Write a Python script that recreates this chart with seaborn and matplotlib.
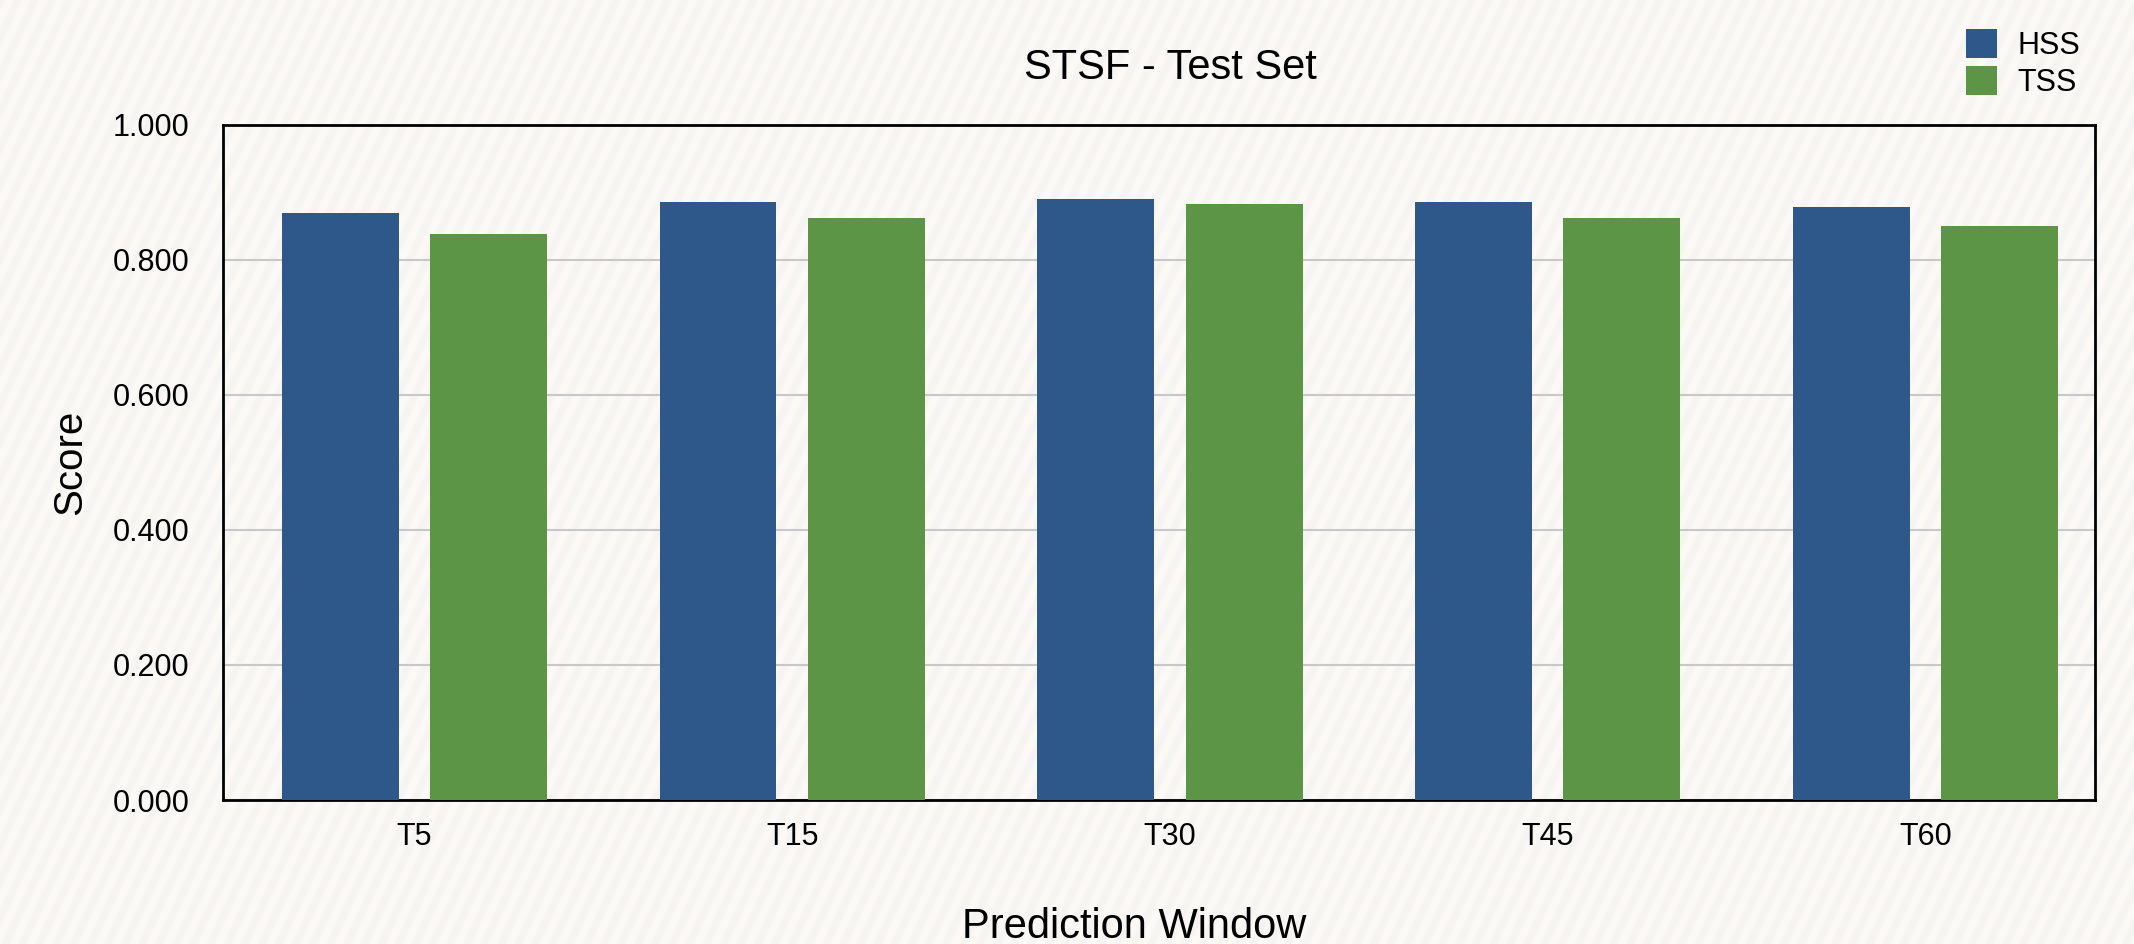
import numpy as np
import pandas as pd
import matplotlib
matplotlib.use("Agg")
import matplotlib.pyplot as plt
from matplotlib.patches import Patch
from matplotlib.ticker import FormatStrFormatter
import seaborn as sns

# Scores per prediction window
windows = ["T5", "T15", "T30", "T45", "T60"]
hss = [0.870, 0.886, 0.890, 0.886, 0.879]
tss = [0.838, 0.862, 0.883, 0.862, 0.850]
metrics = ["HSS", "TSS"]
metric_colors = ["#2E578A", "#5D9547"]
yticks = [0.0, 0.2, 0.4, 0.6, 0.8, 1.0]

df = pd.DataFrame({
    "window": windows * 2,
    "score": hss + tss,
    "metric": ["HSS"] * len(windows) + ["TSS"] * len(windows),
})

sns.set_style("white")
plt.rcParams["font.family"] = ["Liberation Sans", "DejaVu Sans"]
plt.rcParams["text.color"] = "black"
plt.rcParams["axes.labelcolor"] = "black"

W, H, DPI = 2134, 944, 100
fig = plt.figure(figsize=(W / DPI, H / DPI), dpi=DPI)

# Faint diagonal-striped paper background
bg = fig.add_axes([0, 0, 1, 1], zorder=-10)
rows, cols = np.mgrid[0:H, 0:W]
theta = np.deg2rad(65)
u = np.sin(theta) * cols + np.cos(theta) * rows
period = 15.5
wave = 0.5 * (1 + np.cos(2 * np.pi * u / period))
base = np.array([253, 250, 247]) / 255.0
stripe = np.array([246, 244, 242]) / 255.0
img = base[None, None, :] * (1 - wave[..., None]) + stripe[None, None, :] * wave[..., None]
bg.imshow(img, extent=[0, W, H, 0], aspect="auto", interpolation="bilinear")
bg.set_axis_off()

ax = fig.add_axes([223 / W, 1 - 800 / H, (2095 - 223) / W, (800 - 125) / H])
ax.set_facecolor("none")

sns.barplot(
    data=df, x="window", y="score", hue="metric", order=windows, hue_order=metrics,
    palette=metric_colors, saturation=1, width=0.786, gap=0.212, errorbar=None,
    linewidth=0, legend=False, ax=ax, zorder=3,
)

ax.set_xlim(-0.507, 4.449)
ax.set_ylim(0, 1)
ax.set_yticks(yticks)
ax.yaxis.set_major_formatter(FormatStrFormatter("%.3f"))
ax.yaxis.grid(True, color="#c8c8c8", linewidth=1.5, zorder=0)
ax.set_axisbelow(True)
for s in ax.spines.values():
    s.set_visible(True)
    s.set_color("black")
    s.set_linewidth(2)
ax.tick_params(axis="both", length=0, labelsize=22, colors="black")
ax.tick_params(axis="y", pad=24)
ax.tick_params(axis="x", pad=16)

ax.set_xlabel("Prediction Window", fontsize=30)
ax.xaxis.label.set_va("baseline")
ax.xaxis.set_label_coords((1134 - 223) / (2095 - 223), (800 - 938) / (800 - 125))
ax.set_ylabel("Score", fontsize=29)
ax.yaxis.set_label_coords((89 - 223) / (2095 - 223), 0.5)

fig.text(1170 / W, 1 - 79 / H, "STSF - Test Set", ha="center", va="baseline", fontsize=30)

handles = [Patch(facecolor=c, edgecolor="none", label=m) for m, c in zip(metrics, metric_colors)]
fig.legend(
    handles=handles, loc="upper left", bbox_to_anchor=(1966 / W, 1 - 29 / H),
    bbox_transform=fig.transFigure, frameon=False, fontsize=22, borderpad=0,
    borderaxespad=0, handlelength=1.0, handleheight=1.08, labelspacing=0.16,
    handletextpad=0.69,
)

fig.savefig("out.png", dpi=DPI)
